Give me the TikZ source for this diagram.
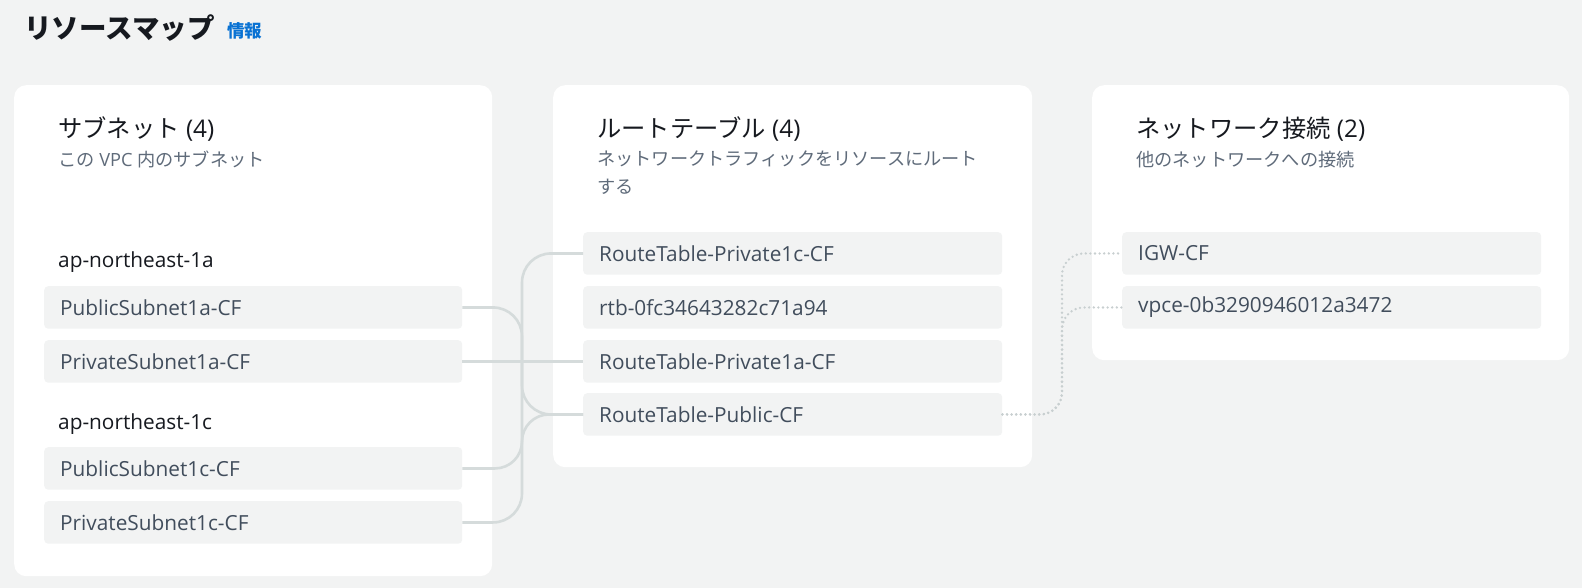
\documentclass[tikz,border=0pt]{standalone}
\usepackage{fontspec}
\setmainfont{Open Sans}
\newfontfamily\jp{Noto Sans CJK JP}
\definecolor{bg}{HTML}{F2F3F3}
\definecolor{itemfill}{HTML}{F2F3F3}
\definecolor{dark}{HTML}{16191F}
\definecolor{sub}{HTML}{5F6B7A}
\definecolor{itemtext}{HTML}{414D5C}
\definecolor{conn}{HTML}{D5DBDB}
\definecolor{dotc}{HTML}{C8CFD0}
\definecolor{link}{HTML}{0972D3}
\tikzset{
  panel/.style={fill=white, rounded corners=12pt, anchor=north west, inner sep=0pt},
  item/.style={fill=itemfill, rounded corners=4pt, minimum height=42.5pt, inner xsep=16pt, inner ysep=0pt,
    anchor=north west, align=left, text=itemtext, font=\fontsize{20.8}{24}\selectfont},
  heading/.style={anchor=west, inner sep=0pt, text=dark, font=\fontsize{24.3}{28}\selectfont},
  subtitle/.style={anchor=north west, inner sep=0pt, text=sub, align=left, font=\fontsize{18.2}{28}\selectfont},
  zone/.style={anchor=west, inner sep=0pt, text=dark, font=\fontsize{20.8}{24}\selectfont},
  solidconn/.style={draw=conn, line width=2.6pt},
  dotconn/.style={draw=dotc, line width=2.6pt, line cap=round, dash pattern=on 0pt off 4.6pt, rounded corners=22pt}
}
\begin{document}
\begin{tikzpicture}[x=1pt,y=-1pt]
\useasboundingbox (0,0) rectangle (1582,588);
\fill[bg] (0,0) rectangle (1582,588);

% title
\node[anchor=west, inner sep=0pt, text=dark, font=\fontsize{27.5}{30}\selectfont\jp\bfseries] (title) at (24,28) {リソースマップ};
\node[anchor=west, inner sep=0pt, text=link, font=\fontsize{17.5}{20}\selectfont\jp\bfseries] (info) at (227,31) {情報};

% panels
\node[panel, minimum width=478pt, minimum height=491pt] (p1) at (14,85) {};
\node[panel, minimum width=479pt, minimum height=382pt] (p2) at (553,85) {};
\node[panel, minimum width=477pt, minimum height=275pt] (p3) at (1092,85) {};

% headings
\node[heading] (h1) at (58,129) {{\jp サブネット} (4)};
\node[heading] (h2) at (597,129) {{\jp ルートテーブル} (4)};
\node[heading] (h3) at (1136,129) {{\jp ネットワーク接続} (2)};
\node[subtitle] (d1) at (58,151) {{\jp この} VPC {\jp 内のサブネット}};
\node[subtitle] (d2) at (597,151) {\jp ネットワークトラフィックをリソースにルート\\\jp する};
\node[subtitle] (d3) at (1136,151) {\jp 他のネットワークへの接続};

% zones
\node[zone] (za) at (58,262) {ap-northeast-1a};
\node[zone] (zc) at (58,424) {ap-northeast-1c};

% subnet items
\node[item, text width=386pt] (s1) at (44,286) {PublicSubnet1a-CF};
\node[item, text width=386pt] (s2) at (44,340) {PrivateSubnet1a-CF};
\node[item, text width=386pt] (s3) at (44,447) {PublicSubnet1c-CF};
\node[item, text width=386pt] (s4) at (44,501) {PrivateSubnet1c-CF};

% route tables
\node[item, text width=387pt] (r1) at (583,232) {RouteTable-Private1c-CF};
\node[item, text width=387pt] (r2) at (583,286) {rtb-0fc34643282c71a94};
\node[item, text width=387pt] (r3) at (583,340) {RouteTable-Private1a-CF};
\node[item, text width=387pt] (r4) at (583,393) {RouteTable-Public-CF};

% network connections
\node[item, text width=387pt] (n1) at (1122,232) {IGW-CF};
\node[item, text width=387pt] (n2) at (1122,286) {vpce-0b3290946012a3472};

% trunks
\coordinate (tk) at (522,0);
\coordinate (tk2) at (1062,0);

% solid connectors
\draw[solidconn, rounded corners=29pt] (s1.east) -- (s1.east -| tk) -- (tk |- r4.west) -- (r4.west);
\draw[solidconn] (s2.east) -- (r3.west);
\draw[solidconn, rounded corners=27pt] (s3.east) -- (s3.east -| tk) -- (tk |- r4.west) -- (r4.west);
\draw[solidconn, rounded corners=29pt] (s4.east) -- (s4.east -| tk) -- (tk |- r1.west) -- (r1.west);

% dotted connectors
\draw[dotconn] (r4.east) -- (r4.east -| tk2) -- (tk2 |- n1.west) -- (n1.west);
\draw[dotconn] (r4.east) -- (r4.east -| tk2) -- (tk2 |- n2.west) -- (n2.west);
\end{tikzpicture}
\end{document}
